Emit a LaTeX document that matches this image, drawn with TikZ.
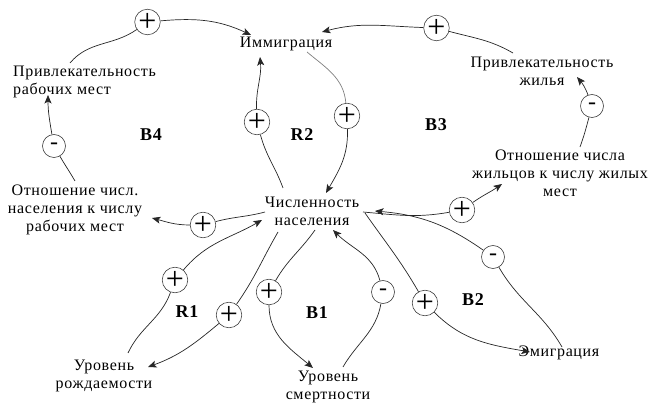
\documentclass[tikz,border=0pt]{standalone}
\usepackage{fontspec}
\setmainfont{Liberation Serif}[LetterSpace=4]
\usetikzlibrary{arrows.meta}
\begin{document}
\begin{tikzpicture}[x=1pt,y=-1pt,
  lbl/.style={font=\fontsize{16}{18}\selectfont, align=center, inner sep=0pt, text=black},
  loopname/.style={font=\fontsize{18}{18}\selectfont\bfseries, inner sep=0pt},
  sgn/.style={circle, draw=black!75, line width=0.6pt, fill=white, minimum size=23pt, inner sep=0pt},
  plus/.style={sgn, font=\fontsize{32}{32}\selectfont},
  minus/.style={sgn, font=\fontsize{24}{24}\selectfont},
  link/.style={draw=black!85, line width=0.7pt},
  arr/.style={link, -{Stealth[length=8.5pt,width=7pt,inset=2pt]}}
]
\useasboundingbox (0,0) rectangle (648,403);
% variables
\node[lbl] (imm) at (286,44) {Иммиграция};
\node[lbl, anchor=west, align=left] (prw) at (13,82) {Привлекательность\\рабочих мест};
\node[lbl] (prh) at (542,71) {Привлекательность\\жилья};
\node[lbl] (rh) at (560,173) {Отношение числа\\жильцов к числу жилых\\мест};
\node[lbl] (rj) at (75,210) {Отношение числ.\\населения к числу\\рабочих мест};
\node[lbl] (pop) at (312,211) {Численность\\населения};
\node[lbl] (br) at (104,376) {Уровень\\рождаемости};
\node[lbl] (dr) at (328,387) {Уровень\\смертности};
\node[lbl] (em) at (559,353) {Эмиграция};
% loop names
\node[loopname] (B4) at (151,135) {B4};
\node[loopname] (R2) at (302,135) {R2};
\node[loopname] (B3) at (436,125) {B3};
\node[loopname] (R1) at (187,312) {R1};
\node[loopname] (B1) at (317,313) {B1};
\node[loopname] (B2) at (473,300) {B2};
% polarity signs
\node[plus] (s1) at (147.5,22) {+};
\node[plus] (s2) at (436.5,28) {+};
\node[minus] (s3) at (54,146) {-};
\node[plus] (s4) at (257,122) {+};
\node[plus] (s5) at (347,116) {+};
\node[minus] (s6) at (592,106) {-};
\node[plus] (s7) at (462,210) {+};
\node[minus] (s8) at (493,257) {-};
\node[plus] (s9) at (425,303) {+};
\node[minus] (s10) at (383,292) {-};
\node[plus] (s11) at (269,292) {+};
\node[plus] (s12) at (229,315) {+};
\node[plus] (s13) at (175,280) {+};
\node[plus] (s14) at (203,225) {+};
% connector end points
\coordinate (a1s) at (70,63);   \coordinate (a1e) at (251,35);
\coordinate (a2s) at (513,53);  \coordinate (a2e) at (322,32);
\coordinate (a3s) at (75,181);  \coordinate (a3e) at (48,95);
\coordinate (a4s) at (283,188); \coordinate (a4e) at (260,57);
\coordinate (a5s) at (307,52);  \coordinate (a5e) at (326,193);
\coordinate (a6s) at (363,212); \coordinate (a6e) at (502,184);
\coordinate (a7s) at (580,147); \coordinate (a7e) at (577,77);
\coordinate (a8s) at (562,347); \coordinate (a8e) at (375,211);
\coordinate (a9s) at (365,213); \coordinate (a9e) at (530,352);
\coordinate (a10s) at (343,367); \coordinate (a10e) at (333,230);
\coordinate (a11s) at (315,230); \coordinate (a11e) at (313,368);
\coordinate (a12s) at (278,232); \coordinate (a12e) at (148,367);
\coordinate (a13s) at (128,353); \coordinate (a13e) at (262,220);
\coordinate (a14s) at (265,212); \coordinate (a14e) at (152,218);
% connectors
\draw[link] (a1s) to[out=50,in=215] (s1);
\draw[arr] (s1) to[out=5,in=155] (a1e);
\draw[link] (a2s) to[out=150,in=-15] (s2);
\draw[arr] (s2) to[out=178,in=15] (a2e);
\draw[link] (a3s) to[out=120,in=-60] (s3);
\draw[arr] (s3) to[out=100,in=-90] (a3e);
\draw[link] (a4s) to[out=110,in=-75] (s4);
\draw[arr] (s4) to[out=92,in=-85] (a4e);
\draw[link, draw=black!50] (a5s) to[out=-40,in=95] (s5);
\draw[arr] (s5) to[out=-88,in=60] (a5e);
\draw[link] (a6s) to[out=-5,in=190] (s7);
\draw[arr] (s7) to[out=35,in=-145] (a6e);
\draw[link] (a7s) to[out=70,in=-105] (s6);
\draw[arr] (s6) to[out=110,in=-50] (a7e);
\draw[link] (a8s) to[out=120,in=-60] (s8);
\draw[arr] (s8) to[out=145,in=-5] (a8e);
\draw[link] (a9s) to[out=-55,in=120] (s9);
\draw[arr] (s9) to[out=-45,in=170] (a9e);
\draw[link] (a10s) to[out=60,in=-100] (s10);
\draw[arr] (s10) to[out=105,in=-45] (a10e);
\draw[link] (a11s) to[out=-125,in=60] (s11);
\draw[arr] (s11) to[out=-90,in=140] (a11e);
\draw[link] (a12s) to[out=-120,in=55] (s12);
\draw[arr] (s12) to[out=-140,in=20] (a12e);
\draw[link] (a13s) to[out=65,in=-110] (s13);
\draw[arr] (s13) to[out=50,in=-150] (a13e);
\draw[link] (a14s) to[out=-165,in=15] (s14);
\draw[arr] (s14) to[out=180,in=-15] (a14e);
\end{tikzpicture}
\end{document}
